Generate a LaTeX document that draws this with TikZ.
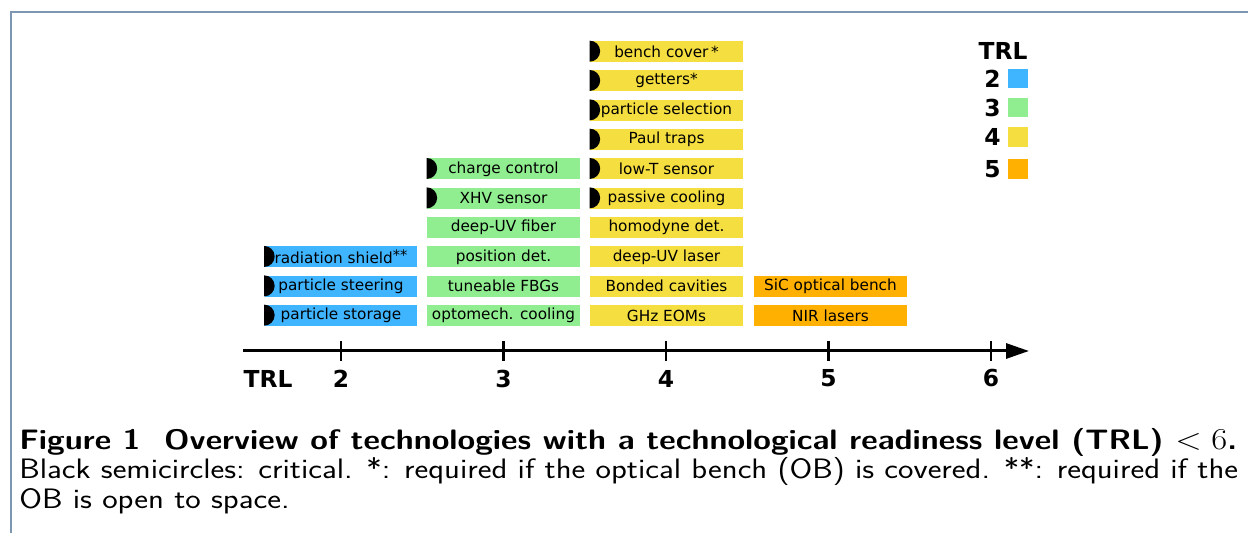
\documentclass[tikz,border=0pt]{standalone}
\usepackage{fontspec}
\usepackage{graphicx}
\newfontfamily\dv{DejaVu Sans}
\usetikzlibrary{arrows.meta}
\definecolor{cblue}{RGB}{64,181,255}
\definecolor{cgreen}{RGB}{144,238,144}
\definecolor{cyellow}{RGB}{245,222,64}
\definecolor{corange}{RGB}{255,176,0}
\definecolor{frameblue}{RGB}{125,151,176}
\tikzset{
  tech/.style={minimum width=3.06cm, minimum height=0.42cm, inner sep=0pt,
    font=\dv\fontsize{8.7}{10}\selectfont, text=black},
  trl2/.style={tech, fill=cblue},
  trl3/.style={tech, fill=cgreen},
  trl4/.style={tech, fill=cyellow},
  trl5/.style={tech, fill=corange},
  biglabel/.style={font=\dv\bfseries\fontsize{13.3}{15}\selectfont, inner sep=0pt},
  legbox/.style={minimum width=0.4cm, minimum height=0.39cm, inner sep=0pt},
  axisline/.style={line width=0.06cm, -{Triangle[length=0.46cm,width=0.3cm]}},
  tickline/.style={line width=0.05cm},
  frameline/.style={draw=frameblue, line width=0.045cm},
  crit/.style={fill=black},
  capline/.style={anchor=base west, inner sep=0pt}
}
\newcommand{\critmark}[1]{\fill[crit] (#1.north west) arc[start angle=90,end angle=-90,radius=0.21cm] -- cycle;}
\newcommand{\dstars}[1]{\raisebox{0.3ex}{\scalebox{0.95}{#1}}}
\newsavebox\captwobox
\newlength\captwolen
\begin{document}
\sbox\captwobox{\sffamily\fontsize{16}{19}\selectfont Black semicircles: critical. *: required if the optical bench (OB) is covered. **: required if the}
\setlength\captwolen{\wd\captwobox}
\pgfmathsetmacro\capscale{694.2/\captwolen}
\begin{tikzpicture}[x=0.02cm,y=-0.02cm]
\useasboundingbox (0,0) rectangle (1248,533);
\draw[frameline] (11,533) -- (11,12) -- (1248,12);

% TRL 2
\node[trl2] (t2a) at (341,315.5) {particle storage};
\node[trl2] (t2b) at (341,286.2) {particle steering};
\node[trl2] (t2c) at (341,256.8) {radiation shield\dstars{**}};
% TRL 3
\node[trl3] (t3a) at (503.5,315.5) {optomech. cooling};
\node[trl3] (t3b) at (503.5,286.2) {tuneable FBGs};
\node[trl3] (t3c) at (503.5,256.8) {position det.};
\node[trl3] (t3d) at (503.5,227.5) {deep-UV fiber};
\node[trl3] (t3e) at (503.5,198.2) {XHV sensor};
\node[trl3] (t3f) at (503.5,168.8) {charge control};
% TRL 4
\node[trl4] (t4a) at (666.5,315.5) {GHz EOMs};
\node[trl4] (t4b) at (666.5,286.2) {Bonded cavities};
\node[trl4] (t4c) at (666.5,256.8) {deep-UV laser};
\node[trl4] (t4d) at (666.5,227.5) {homodyne det.};
\node[trl4] (t4e) at (666.5,198.2) {passive cooling};
\node[trl4] (t4f) at (666.5,168.8) {low-T sensor};
\node[trl4] (t4g) at (666.5,139.5) {Paul traps};
\node[trl4] (t4h) at (666.5,110.2) {particle selection};
\node[trl4] (t4i) at (666.5,80.8) {getters*};
\node[trl4] (t4j) at (666.5,51.5) {bench cover\,*};
% TRL 5
\node[trl5] (t5a) at (830.5,315.5) {NIR lasers};
\node[trl5] (t5b) at (830.5,286.2) {SiC optical bench};

% critical marks
\critmark{t2a}\critmark{t2b}\critmark{t2c}
\critmark{t3e}\critmark{t3f}
\critmark{t4e}\critmark{t4f}\critmark{t4g}\critmark{t4h}\critmark{t4i}\critmark{t4j}

% axis
\coordinate (axs) at (243,351);
\coordinate (axe) at (1029,351);
\draw[axisline] (axs) -- (axe);
\foreach \n/\x in {2/341,3/503.5,4/666,5/828.5,6/991}{
  \coordinate (tk\n) at (\x,351);
  \draw[tickline] ([yshift=0.2cm]tk\n) -- ([yshift=-0.2cm]tk\n);
  \node[biglabel] (al\n) at (\x,378.5) {\n};
}
\node[biglabel] (altrl) at (268,378.5) {TRL};

% legend
\node[biglabel] (lgt) at (1003,50.5) {TRL};
\foreach \n/\y/\c in {2/78.5/cblue,3/107.5/cgreen,4/137/cyellow,5/169/corange}{
  \node[legbox, fill=\c] (lb\n) at (1018,\y) {};
  \node[biglabel, anchor=east] (ln\n) at (1001,\y) {\n};
}

% caption
\node[capline, font=\sffamily\bfseries\fontsize{16}{19}\selectfont] (cap1) at (19,450)
  {\resizebox{24.36cm}{\height}{Figure 1\ \ Overview of technologies with a technological readiness level (TRL) $<6$.}};
\node[capline] (cap2) at (19,479)
  {\resizebox{24.38cm}{\height}{\usebox\captwobox}};
\node[capline, font=\sffamily\fontsize{16}{19}\selectfont] (cap3) at (19,508)
  {\scalebox{\capscale}[1]{OB is open to space.}};
\end{tikzpicture}
\end{document}
